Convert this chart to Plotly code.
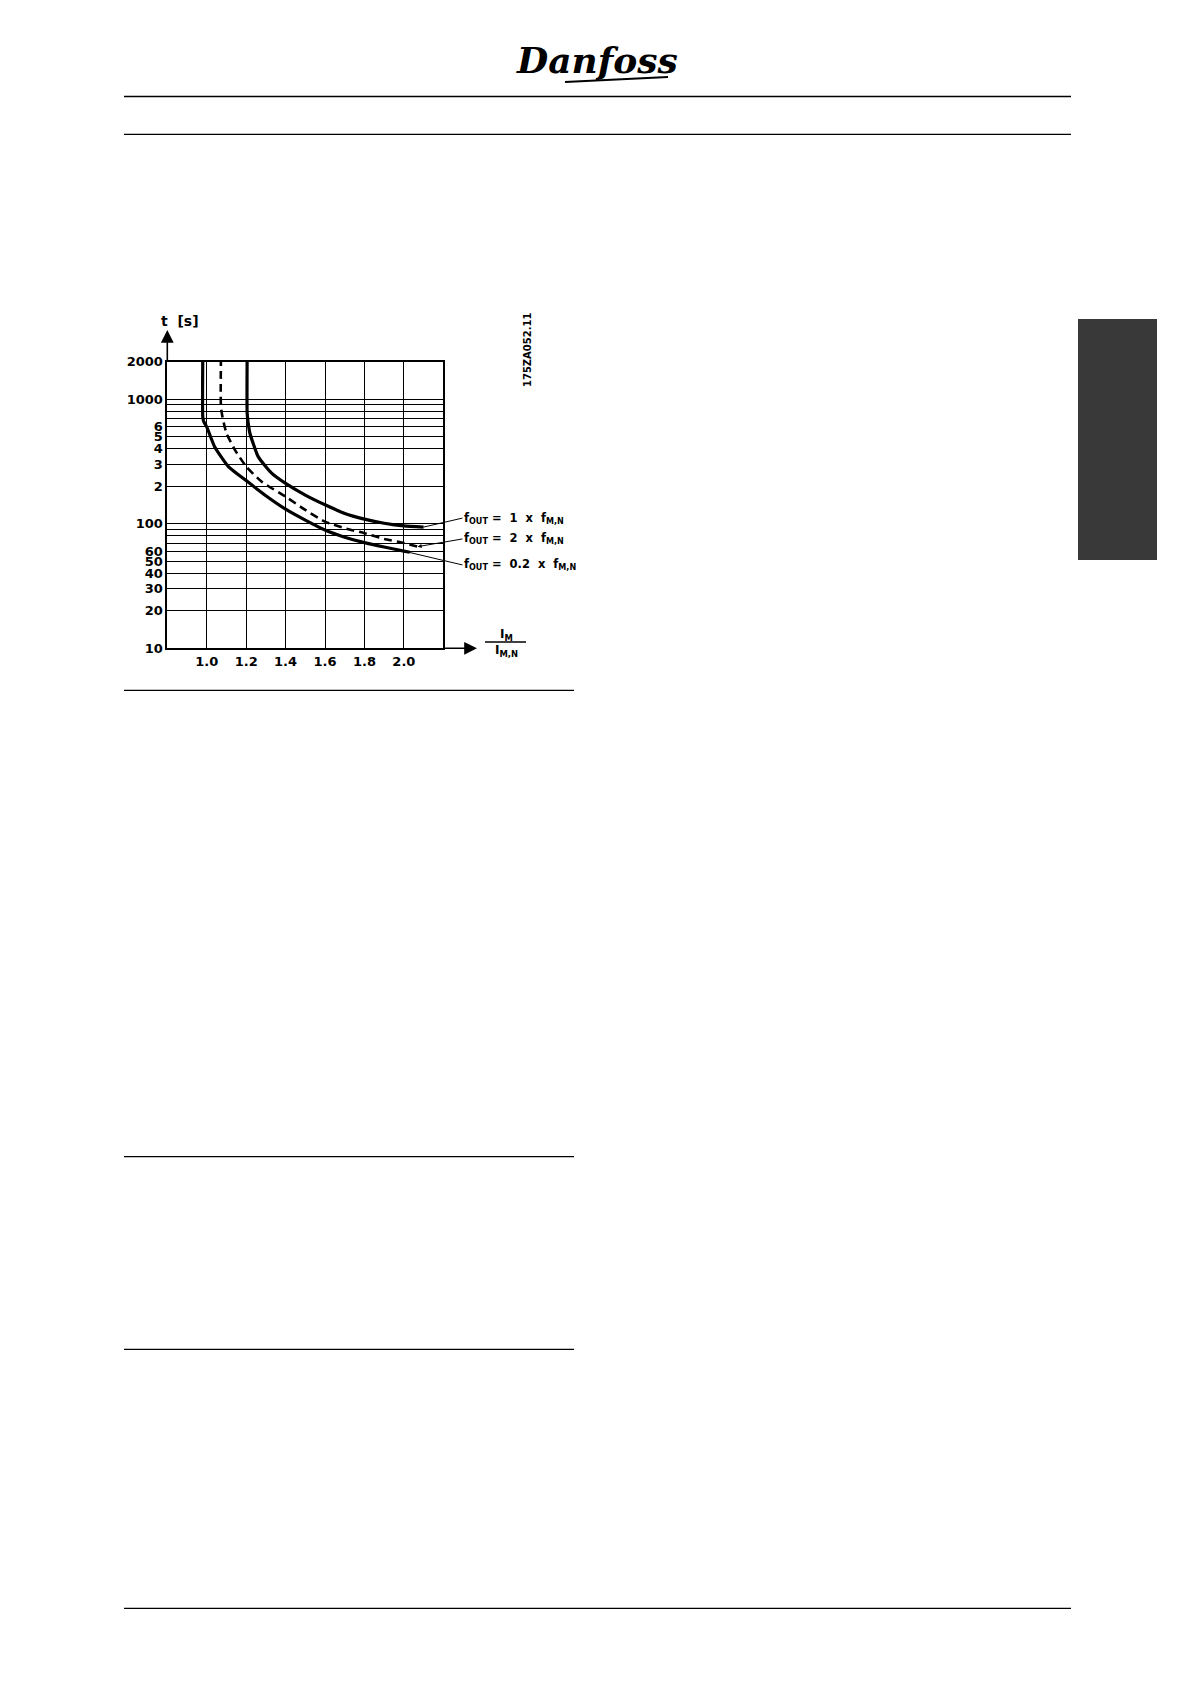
import math
import plotly.graph_objects as go

# ---------------- data ----------------
x_ticks = [1.0, 1.2, 1.4, 1.6, 1.8, 2.0]
x_ticktext = ["1.0", "1.2", "1.4", "1.6", "1.8", "2.0"]

y_ticks = [10, 20, 30, 40, 50, 60, 100, 200, 300, 400, 500, 600, 1000, 2000]
y_ticktext = ["10", "20", "30", "40", "50", "60", "100", "2", "3", "4", "5", "6", "1000", "2000"]
y_minor_grid = [70, 80, 90, 700, 800, 900]

# fOUT = 0.2 x fM,N (solid, left curve)
x_f02 = [0.98, 0.98, 0.985, 1.0, 1.04, 1.11, 1.2, 1.3, 1.4, 1.5, 1.6, 1.7, 1.8, 1.9, 2.0, 2.03]
t_f02 = [2150, 720, 660, 600, 416, 288, 222, 168, 131, 107, 89, 78, 70.5, 65, 60.3, 59]

# fOUT = 2 x fM,N (dashed, middle curve)
x_f2 = [1.072, 1.072, 1.08, 1.10, 1.143, 1.2, 1.278, 1.4, 1.5, 1.6, 1.7, 1.8, 1.9, 2.0, 2.07]
t_f2 = [2150, 870, 720, 533, 392, 288, 218, 165, 129, 104, 92, 84, 75.5, 70, 65.5]

# fOUT = 1 x fM,N (solid, right curve)
x_f1 = [1.205, 1.205, 1.21, 1.219, 1.261, 1.329, 1.4, 1.5, 1.6, 1.7, 1.8, 1.9, 2.0, 2.1]
t_f1 = [2150, 777, 650, 533, 346, 255, 211, 170, 142, 121, 109, 101, 96, 94]

labels = ["f<sub>OUT</sub>\u00a0=\u00a0\u00a01\u00a0\u00a0x\u00a0\u00a0f<sub>M,N</sub>",
          "f<sub>OUT</sub>\u00a0=\u00a0\u00a02\u00a0\u00a0x\u00a0\u00a0f<sub>M,N</sub>",
          "f<sub>OUT</sub>\u00a0=\u00a0\u00a00.2\u00a0\u00a0x\u00a0\u00a0f<sub>M,N</sub>"]
label_t = [111, 75.5, 46.7]
label_x = 2.297

# ---------------- figure ----------------
W, H = 1190, 1684
OFF = 8  # page body margin of the html document
px_l, px_r, px_t, px_b = 167.3, 443.3, 361.7, 648.3

def px(xp):
    return (xp - OFF) / W

def py(yp):
    return 1 - (yp - OFF) / H

fig = go.Figure()
fig.add_trace(go.Scatter(x=x_f02, y=t_f02, mode="lines",
                         line=dict(color="black", width=3.2, shape="spline", smoothing=0.5), hoverinfo="skip"))
fig.add_trace(go.Scatter(x=x_f2, y=t_f2, mode="lines",
                         line=dict(color="black", width=2.6, dash="8px,5px", shape="spline", smoothing=0.5),
                         hoverinfo="skip"))
fig.add_trace(go.Scatter(x=x_f1, y=t_f1, mode="lines",
                         line=dict(color="black", width=3.2, shape="spline", smoothing=0.5), hoverinfo="skip"))

bold = dict(family="DejaVu Sans", size=13, color="black", weight="bold")

fig.update_layout(
    width=W, height=H, autosize=False,
    margin=dict(l=0, r=0, t=0, b=0, pad=0),
    paper_bgcolor="white", plot_bgcolor="white",
    showlegend=False,
    xaxis=dict(domain=[px(px_l), px(px_r)], range=[0.8, 2.2], automargin=False,
               tickvals=x_ticks, ticktext=x_ticktext,
               showgrid=True, gridcolor="black", gridwidth=1.3,
               showline=True, mirror=True, linecolor="black", linewidth=1.6,
               zeroline=False, ticks="", tickfont=bold, fixedrange=True),
    yaxis=dict(domain=[py(px_b), py(px_t)], type="log", automargin=False,
               range=[1, math.log10(2000)],
               tickvals=y_ticks, ticktext=y_ticktext,
               minor=dict(tickvals=y_minor_grid, showgrid=True, gridcolor="black", gridwidth=1.3, ticks=""),
               showgrid=True, gridcolor="black", gridwidth=1.3,
               showline=True, mirror=True, linecolor="black", linewidth=1.6,
               zeroline=False, ticks="", tickfont=bold, fixedrange=True),
)

ann = []
# curve labels with leader lines
ends = [(x_f1[-1], t_f1[-1], 0), (x_f2[-1], t_f2[-1], 2), (2.0, 60.3, 0)]
for lab, lt, (ex, et, head) in zip(labels, label_t, ends):
    ann.append(dict(x=ex, y=math.log10(et), xref="x", yref="y",
                    ax=label_x, ay=math.log10(lt), axref="x", ayref="y",
                    text=lab, xanchor="left", yanchor="middle",
                    showarrow=True, arrowhead=head, arrowsize=0.8, arrowwidth=1,
                    arrowcolor="black", standoff=0, startstandoff=0,
                    font=dict(family="DejaVu Sans", size=11.5, color="black", weight="bold")))

def note(x, y, text, size, **kw):
    d = dict(x=px(x), y=py(y), xref="paper", yref="paper", showarrow=False,
             xanchor="center", yanchor="middle", text=text,
             font=dict(family="DejaVu Sans", size=size, color="black", weight="bold"))
    d.update(kw)
    return d

# axis title t [s]
ann.append(note(180, 321, "t\u00a0\u00a0[s]", 14))
# drawing code
ann.append(note(527, 350, "175ZA052.11", 10, textangle=-90))
# x axis fraction title
ann.append(note(506, 635, "I<sub>M</sub>", 12))
ann.append(note(506, 651, "I<sub>M,N</sub>", 12))
# axis arrows
ann.append(dict(x=px(px_l), y=py(330), xref="paper", yref="paper", text="",
                showarrow=True, ax=0, ay=32, arrowhead=2, arrowsize=1.6, arrowwidth=1.6, arrowcolor="black"))
ann.append(dict(x=px(477), y=py(px_b), xref="paper", yref="paper", text="",
                showarrow=True, ax=-34, ay=0, arrowhead=2, arrowsize=1.6, arrowwidth=1.6, arrowcolor="black"))
# logo
ann.append(dict(x=px(597), y=py(60), xref="paper", yref="paper", showarrow=False,
                xanchor="center", yanchor="middle", text="Danfoss",
                font=dict(family="DejaVu Serif", size=36, color="black", weight="bold", style="italic")))
fig.update_layout(annotations=ann)

shapes = []
# fraction bar
shapes.append(dict(type="line", xref="paper", yref="paper", x0=px(485), x1=px(526), y0=py(642), y1=py(642),
                   line=dict(color="black", width=1.3)))
# logo swoosh
shapes.append(dict(type="line", xref="paper", yref="paper", x0=px(565), x1=px(668), y0=py(82), y1=py(77),
                   line=dict(color="black", width=2)))
# page rules
for y0, xa, xb in [(96.5, 124, 1071), (134.3, 124, 1071), (690.3, 124, 574),
                   (1156.7, 124, 574), (1349.3, 124, 574), (1608.3, 124, 1071)]:
    shapes.append(dict(type="line", xref="paper", yref="paper", x0=px(xa), x1=px(xb), y0=py(y0), y1=py(y0),
                       line=dict(color="black", width=1.3)))
# side tab
shapes.append(dict(type="rect", xref="paper", yref="paper", x0=px(1078), x1=px(1157), y0=py(560), y1=py(319),
                   fillcolor="#393939", line=dict(width=0)))
fig.update_layout(shapes=shapes)

fig.write_html("out.html")
